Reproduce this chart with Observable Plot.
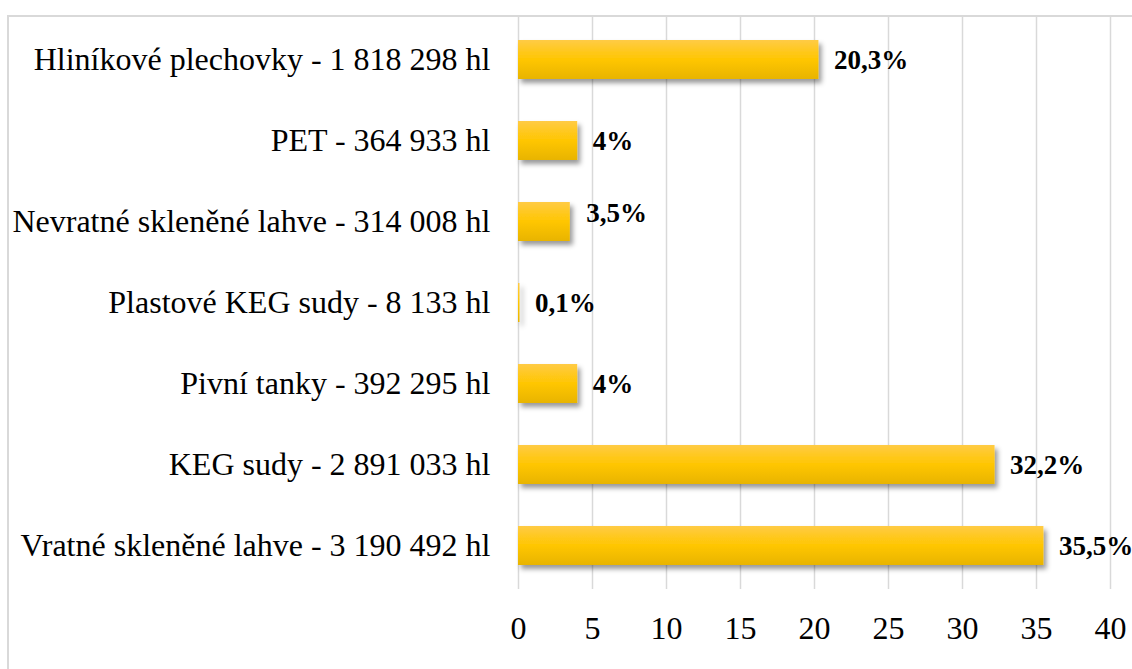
<!DOCTYPE html>
<html>
<head>
<meta charset="utf-8">
<script src="https://cdn.jsdelivr.net/npm/d3@7"></script>
<script src="https://cdn.jsdelivr.net/npm/@observablehq/plot@0.6"></script>
<style>
  html, body { margin: 0; padding: 0; background: #fff; overflow: hidden; }
  #wrap { position: relative; width: 1132px; height: 669px; overflow: hidden; }
  #frame { position: absolute; left: 7px; top: 15px; width: 1200px; height: 800px;
           border-left: 2px solid #d9d9d9; border-top: 2px solid #d9d9d9; }
  #chart { position: absolute; left: 0; top: 0; }
</style>
</head>
<body>
<div id="wrap"><div id="frame"></div><div id="chart"></div></div>
<script>
const categories = ["Hliníkové plechovky", "PET", "Nevratné skleněné lahve", "Plastové KEG sudy", "Pivní tanky", "KEG sudy", "Vratné skleněné lahve"];
const volumes = ["1 818 298", "364 933", "314 008", "8 133", "392 295", "2 891 033", "3 190 492"];
const shares = [20.3, 4, 3.5, 0.1, 4, 32.2, 35.5];
const xTicks = [0, 5, 10, 15, 20, 25, 30, 35, 40];

const data = categories.map((c, i) => ({
  label: `${c} - ${volumes[i]} hl`,
  share: shares[i],
  text: String(shares[i]).replace(".", ",") + "%",
  idx: i
}));

const chart = Plot.plot({
  width: 1132,
  height: 669,
  marginLeft: 518,
  marginRight: 22,
  marginTop: 16,
  marginBottom: 80,
  style: { fontFamily: "'Liberation Serif', 'Times New Roman', serif", fontSize: "32px", color: "#000", background: "transparent" },
  x: { domain: [0, 40], ticks: xTicks },
  y: { domain: data.map(d => d.label), paddingInner: 0.524, paddingOuter: 0.26 },
  marks: [
    Plot.gridX(xTicks, { stroke: "#d9d9d9", strokeOpacity: 1, strokeWidth: 1.5 }),
    Plot.barX(data, { x: "share", y: "label", fill: "url(#barGrad)" }),
    Plot.text(data.filter(d => d.idx !== 2), { x: "share", y: "label", text: "text", textAnchor: "start", dx: 15, fontWeight: "bold", fontSize: 27, fill: "#000" }),
    Plot.text(data.filter(d => d.idx === 2), { x: "share", y: "label", text: "text", textAnchor: "start", dx: 16, dy: -9, fontWeight: "bold", fontSize: 27, fill: "#000" }),
    Plot.axisX(xTicks, { tickSize: 0, tickPadding: 27, fontSize: 32, label: null }),
    Plot.axisY({ tickSize: 0, tickPadding: 28, fontSize: 32, label: null })
  ]
});

const ns = "http://www.w3.org/2000/svg";
const defs = document.createElementNS(ns, "defs");
defs.innerHTML = `
  <linearGradient id="barGrad" x1="0" y1="0" x2="0" y2="1">
    <stop offset="0" stop-color="#ffcb45"/>
    <stop offset="0.5" stop-color="#ffc600"/>
    <stop offset="1" stop-color="#e8b400"/>
  </linearGradient>
  <filter id="barShadow" x="-10%" y="-20%" width="130%" height="160%">
    <feDropShadow dx="3" dy="4" stdDeviation="2.5" flood-color="#000" flood-opacity="0.4"/>
  </filter>`;
chart.insertBefore(defs, chart.firstChild);
const barG = chart.querySelector('g[aria-label="bar"]');
if (barG) barG.setAttribute("filter", "url(#barShadow)");

document.getElementById("chart").appendChild(chart);
</script>
</body>
</html>
